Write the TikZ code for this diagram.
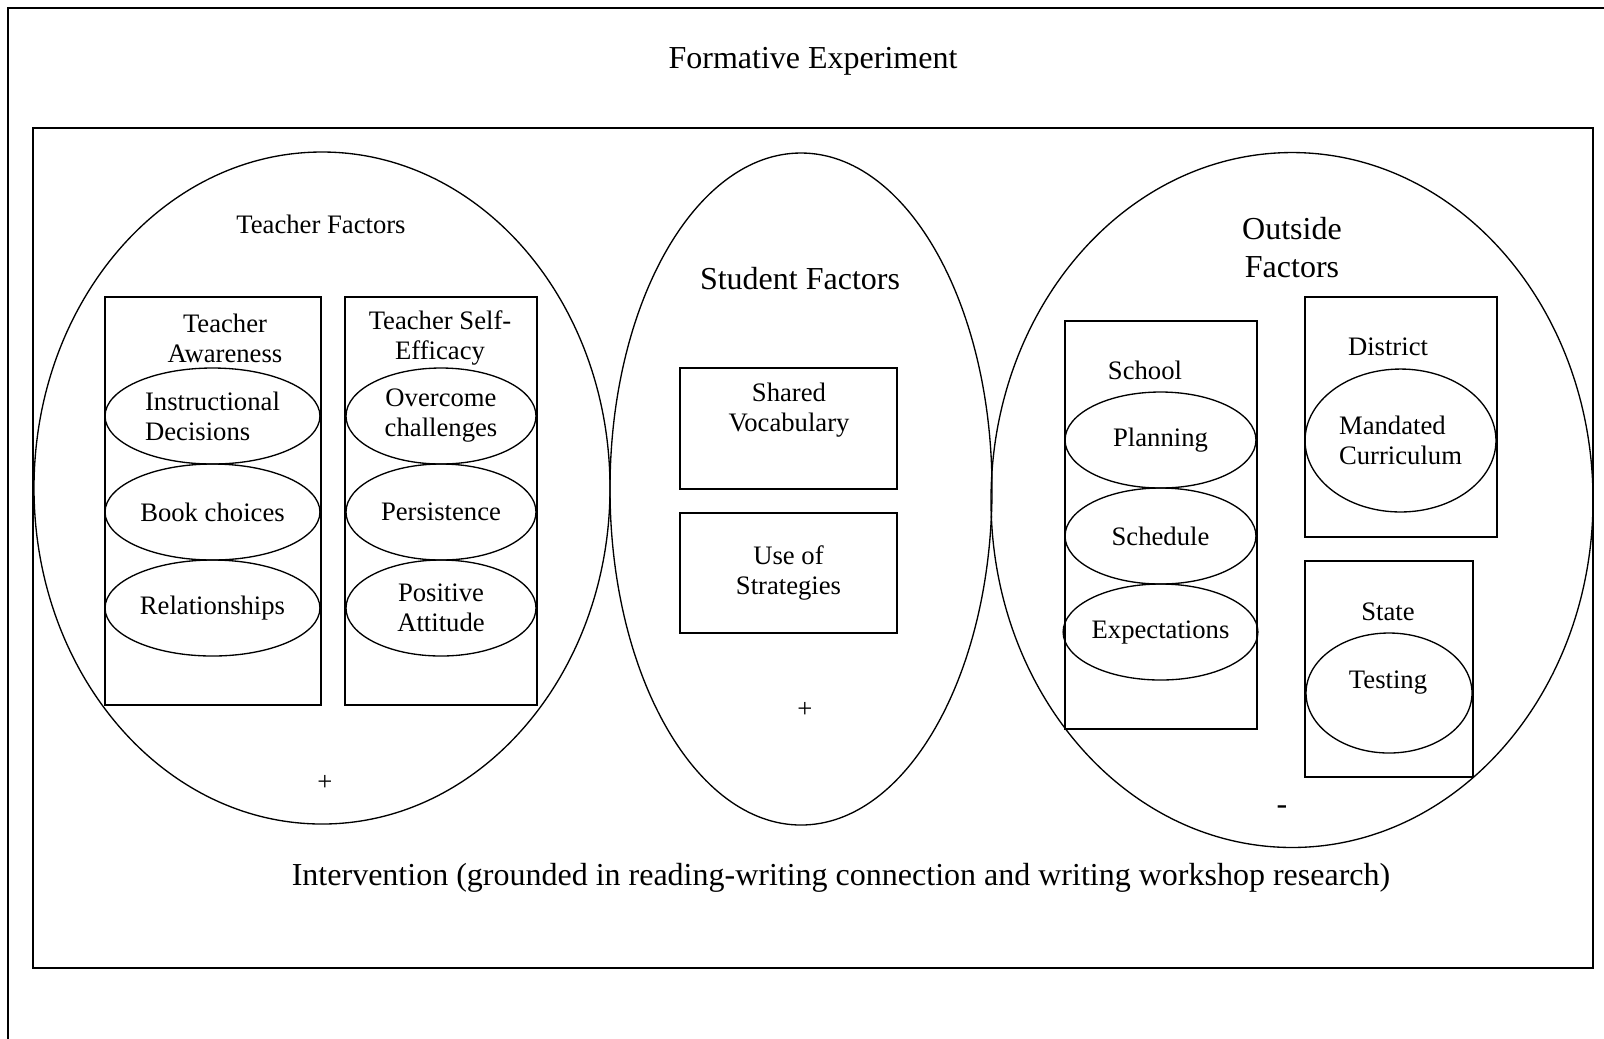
\documentclass[tikz,border=0pt]{standalone}
\usepackage{fontspec}
\setmainfont{Liberation Serif}
\usepackage{tikz}
\usetikzlibrary{shapes.geometric}
\tikzstyle{frame}=[line width=.6pt]
\tikzstyle{box}  =[draw,rectangle,line width=.6pt,inner sep=0pt]
\tikzstyle{area} =[draw,ellipse,line width=.5pt,inner sep=0pt]
\tikzstyle{oval} =[draw,ellipse,line width=.5pt,inner sep=0pt,align=center]
\newcommand\bigtxt{\fontsize{12}{14.25}\selectfont}
\newcommand\smalltxt{\fontsize{10}{11.25}\selectfont}

\begin{document}
\begin{tikzpicture}[x=.375pt,y=-.375pt,font=\smalltxt]
	\useasboundingbox (0,0) rectangle (1604,1038);
	\draw[frame] (8,8) rectangle (1650,1090);
	\draw[frame] (33,128) rectangle (1593,968);
	\node[font=\bigtxt] (formative) at (813,61) {Formative Experiment};
	\node[font=\bigtxt] (intervention) at (841,878) {Intervention (grounded in reading-writing connection and writing workshop research)};
	% teacher factors
	\node[area, minimum width=216pt, minimum height=252pt] (teacher) at (322,488) {};
	\node (teachertitle) at (321,224) {Teacher Factors};
	\node[box, minimum width=81pt, minimum height=153pt] (aware) at (213,501) {};
	\node[box, minimum width=72pt, minimum height=153pt] (selfeff) at (441,501) {};
	\node[align=center] (awaretitle) at (225,338) {Teacher\\Awareness};
	\node[align=center] (selfefftitle) at (440,338) {Teacher Self-\\Efficacy};
	\node[oval, align=left, minimum width=80.6pt, minimum height=36pt] (decisions) at (212.5,416) {Instructional\\Decisions};
	\node[oval, minimum width=80.6pt, minimum height=36pt] (books) at (212.5,512) {Book choices};
	\node[oval, minimum width=80.6pt, minimum height=36pt] (relations) at (212.5,608) {Relationships};
	\node[oval, minimum width=71.25pt, minimum height=36pt] (challenges) at (441,416) {Overcome\\challenges};
	\node[oval, minimum width=71.25pt, minimum height=36pt] (persist) at (441,512) {Persistence};
	\node[oval, minimum width=71.25pt, minimum height=36pt] (attitude) at (441,608) {Positive\\Attitude};
	\node (teachersign) at (325,783) {+};
	% student factors
	\node[area, minimum width=143.25pt, minimum height=252pt] (student) at (801,489) {};
	\node[font=\bigtxt] (studenttitle) at (800,279) {Student Factors};
	\node[box, minimum width=81.4pt, minimum height=45.4pt] (vocab) at (788.5,428.5) {};
	\node[align=center] (vocabtxt) at (789,410) {Shared\\Vocabulary};
	\node[box, align=center, minimum width=81.4pt, minimum height=45pt] (strategies) at (788.5,573) {Use of\\Strategies};
	\node (studentsign) at (805,710) {+};
	% outside factors
	\node[area, minimum width=225.75pt, minimum height=260.6pt] (outside) at (1292,500) {};
	\node[font=\bigtxt, align=center] (outsidetitle) at (1292,248) {Outside\\Factors};
	\node[box, minimum width=72pt, minimum height=153pt] (school) at (1161,525) {};
	\node (schooltitle) at (1145,370) {School};
	\node[oval, minimum width=71.6pt, minimum height=36pt] (planning) at (1160.5,440) {Planning};
	\node[oval, minimum width=71.6pt, minimum height=36pt] (schedule) at (1160.5,536) {Schedule};
	\node[oval, minimum width=71.6pt, minimum height=36pt] (expect) at (1160.5,632) {Expectations};
	\node[box, minimum width=72pt, minimum height=90pt] (district) at (1401,417) {};
	\node (districttitle) at (1388,347) {District};
	\node[oval, align=left, minimum width=71.6pt, minimum height=53.6pt] (curriculum) at (1400.5,440.5) {Mandated\\Curriculum};
	\node[box, minimum width=63pt, minimum height=81pt] (state) at (1389,669) {};
	\node (statetitle) at (1388,612) {State};
	\node[oval, minimum width=62.25pt, minimum height=45pt] (testing) at (1389,693) {};
	\node (testingtxt) at (1388,683) {Testing};
	\node[font=\bigtxt] (outsidesign) at (1282,810) {-};
\end{tikzpicture}
\end{document}
